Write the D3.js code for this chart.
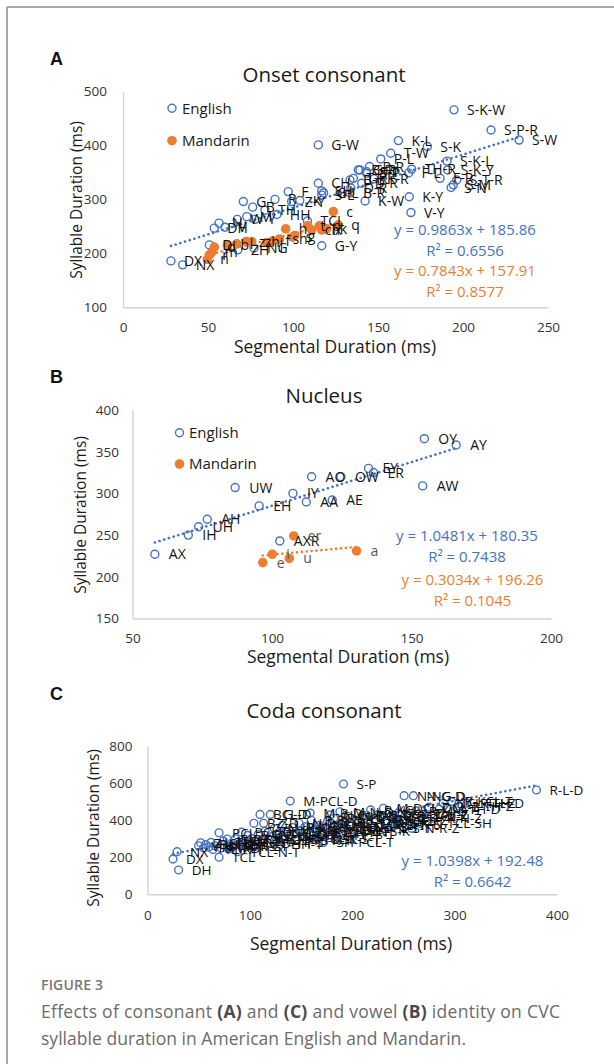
<!DOCTYPE html>
<html><head><meta charset="utf-8">
<script src="https://cdn.jsdelivr.net/npm/d3@7"></script>
<style>
html,body{margin:0;padding:0;background:#fff;}
svg{display:block;}
</style></head><body>
<script>
// ---------- DATA ----------
// [segmental duration (ms), syllable duration (ms), label]
const onsetEnglish = [
  [28.2,186,"DX"],[35.1,178.7,"NX"],[50.8,215.7,"D"],[53.7,246.7,"DH"],[56.5,256,"N"],
  [60,248.5,"V"],[67.2,263,"W"],[70.8,296,"G"],[72.8,268,"M"],[76.3,285.6,"B"],
  [77.6,263,"Y"],[83.5,280,"TH"],[89.4,300,"R"],[90.5,272,"HH"],[97.2,314.5,"F"],
  [99.2,296,"Z-Y"],[104,298,"K"],[108.5,260,"TCL"],[114.9,330,"CH"],[116.9,315.7,"SH"],
  [116.9,308,"S-L"],[118,312,"G-L"],[116.9,214,"G-Y"],[114.9,401,"G-W"],[67.6,206.5,"ZH"],
  [77,210,"NG"],[133.5,312,"B-R"],[134,321,"D-R"],[133.5,336,"B-L"],[135.5,339,"T-R"],
  [138.4,354.6,"B-R"],[139.4,354.6,"G-R"],[140.4,330,"D-R"],[142.4,297,"K-W"],[143.3,348.5,"S-P"],
  [143.3,351.5,"S-T"],[145,361,"P-R"],[147.6,338,"K-R"],[151.6,375,"P-L"],[157.5,385.6,"T-W"],
  [162,409,"K-L"],[168,349,"F-L"],[169.8,356,"TH-R"],[179,398,"S-K"],[190.6,371,"S-K-L"],
  [191,354.6,"S-K-Y"],[186.5,339,"F-R"],[196.3,336,"S-T-R"],[194.3,327,"S-M"],[193,322,"S-N"],
  [168.4,305,"K-Y"],[169.4,275.6,"V-Y"],[194.7,466,"S-K-W"],[216.5,428.7,"S-P-R"],[233,410,"S-W"]
];
const onsetMandarin = [
  [49.6,189,"n"],[50.8,197,"r"],[52.2,202,"m"],[53.7,211.5,"d"],[61.4,215.7,"b"],
  [66.9,217.6,"l"],[72.4,222,"z"],[75.7,222,"zh"],[84.5,220,"j"],[88,223,"f"],
  [92,226.3,"sh"],[95.7,245.4,"h"],[99.8,230,"s"],[101,233,"g"],[108.6,251.5,"t"],
  [111,243.5,"ch"],[115.5,251,"p"],[116.9,243.5,"x"],[119.8,245.4,"k"],[123.7,277.4,"c"],
  [126.6,252.8,"q"]
];
const nucleusEnglish = [
  [58,227,"AX"],[70,250,"IH"],[73.7,260,"UH"],[76.8,269,"AH"],[86.8,307,"UW"],
  [95.4,285,"EH"],[107.5,300,"IY"],[112.3,289.7,"AA"],[114.2,320,"AO"],[121.6,292,"AE"],
  [124.7,320,"OW"],[134.6,330,"EY"],[136.4,325,"ER"],[154.6,365.6,"OY"],[166,358,"AY"],
  [154,309,"AW"],[102.8,243,"AXR"]
];
const nucleusMandarin = [
  [96.7,217,"e"],[100.1,227,"i"],[106.2,222,"u"],[107.8,249,"er"],[130.3,231,"a"]
];
const codaEnglish = [
  [25,190,"DX"],[29,230,"NX"],[30.5,131,"DH"],
  [50,262,"V"],[52,278,"Z"],[55,250,"TH"],[57,268,"DH-Z"],[60,255,"N-TH"],[62,280,"L-TH"],
  [64,242,"F"],[66,262,"S"],[68,275,"SH"],[70,200,"TCL"],[70,332,"PCL"],[72,250,"M-D"],
  [74,288,"N-D"],[75,265,"L-D"],[78,298,"R-D"],[80,245,"N-T"],[82,275,"K-T"],[84,258,"P-T"],
  [86,300,"V-Z"],[88,230,"TCL-N-T"],[90,270,"R-N"],[92,335,"PCL-D"],[94,285,"M-Z"],[96,258,"N-Z"],
  [98,318,"B-D"],[100,280,"L-N"],[102,300,"R-M"],[104,383,"B-Z"],[106,262,"S-T"],[108,322,"G-Z"],
  [110,431,"BCL-D"],[112,295,"K-S"],[113.5,383,"Z-D"],[115,340,"R-L"],[118,275,"DH-T"],[120,431,"G-D"],
  [122,312,"L-M"],[124,355,"N-JH"],[126,290,"CH-T"],[128,330,"NG-Z"],[130,268,"SH-T"],[132,372,"L-V"],
  [134,300,"F-T"],[136,342,"M-P"],[138,318,"N-CH"],[139.5,503,"M-PCL-D"],[140,282,"P-S"],[142,360,"R-V-Z"],
  [144,325,"L-S"],[146,298,"K-TCL-T"],[148,385,"N-DCL-D"],[150,340,"R-K"],[152,310,"M-F"],[154,365,"NG-K"],
  [156,290,"S-K-T"],[158,335,"L-P"],[159,438,"M-B-D"],[160,400,"R-B"],[162,318,"N-S"],[164,350,"M-S"],
  [166,300,"T-S"],[168,372,"L-CH"],[170,330,"R-CH"],[172,280,"SH-PCL-T"],[174,360,"N-TH-S"],[176,395,"R-G"],
  [178,320,"L-F"],[178.5,428,"N-CL-D"],[180,345,"M-TH"],[182,410,"R-DCL-Z"],[184,300,"K-S-T"],[186,370,"L-K"],
  [188,445,"M-N-D"],[190,335,"N-K-T"],[191.5,595,"S-P"],[192,390,"R-S"],[194,355,"L-T-S"],[196,420,"N-DCL-Z"],
  [198,325,"P-S-T"],[200,380,"R-T"],[202,345,"M-P-T"],[205,400,"L-D-Z"],[208,365,"N-T-S"],[210,425,"R-N-D"],
  [212,340,"K-S-K"],[215,385,"L-M-Z"],[218,455,"R-KCL"],[220,360,"N-S-T"],[222,405,"M-N-Z"],[225,430,"L-DCL-Z"],
  [228,375,"R-S-T"],[230.5,464,"M-DCL-Z"],[232,395,"N-G-Z"],[235,355,"L-S-T"],[238,420,"R-DCL-D"],[240,380,"N-K-S"],
  [245,440,"K-L-Z"],[250,400,"R-L-Z"],[250.7,532,"N-NG-D"],[255,420,"L-TCL-Z"],[258,356,"N-R-Z"],[259.8,532,"N-G-D"],
  [262,450,"R-M-D"],[266,383,"N-TCL-SH"],[270,430,"L-V-Z"],[275,470,"DCL-Z"],[280,410,"R-N-Z"],[285,460,"M-TH-D"],
  [289,491,"NCL-TH-Z"],[297,500,"R-KCL-T"],[305,475,"L-TH-Z"],[312,491,"R-TH-D"],[380,562.6,"R-L-D"]
];
// trendline fits: [slope, intercept, R²]
const onsetEnglishFit = [0.9863, 185.86, "0.6556"];
const onsetMandarinFit = [0.7843, 157.91, "0.8577"];
const nucleusEnglishFit = [1.0481, 180.35, "0.7438"];
const nucleusMandarinFit = [0.3034, 196.26, "0.1045"];
const codaEnglishFit = [1.0398, 192.48, "0.6642"];
const onsetXTicks = [0,50,100,150,200,250];
const onsetYTicks = [100,200,300,400,500];
const nucleusXTicks = [50,100,150,200];
const nucleusYTicks = [150,200,250,300,350,400];
const codaXTicks = [0,100,200,300,400];
const codaYTicks = [0,200,400,600,800];
const legendNames = ["English","Mandarin"];

// ---------- DRAWING ----------
const W=614,H=1064;
const FONT="'Open Sans', sans-serif";
const BLUE="#4472c4", ORANGE="#ed7d31";
const svg=d3.select("body").append("svg").attr("width",W).attr("height",H);

svg.append("line").attr("x1",7).attr("x2",W).attr("y1",7).attr("y2",7).attr("stroke","#a8a8a8").attr("stroke-width",2);
svg.append("line").attr("x1",7).attr("x2",7).attr("y1",7).attr("y2",H).attr("stroke","#a8a8a8").attr("stroke-width",2);

function fmtEq(f){
  return "y = " + f[0].toFixed(4) + "x + " + f[1].toFixed(2);
}

function panel(c){
  const x=d3.scaleLinear().domain(c.xDomain).range(c.xRange);
  const y=d3.scaleLinear().domain(c.yDomain).range(c.yRange);
  const g=svg.append("g");
  g.append("text").attr("x",c.letterX).attr("y",c.letterY).text(c.letter)
    .attr("font-family","'Liberation Sans', Arial, sans-serif").attr("font-weight","bold").attr("font-size",18).attr("fill","#111");
  g.append("text").attr("x",c.titleX).attr("y",c.titleY).attr("text-anchor","middle").text(c.title)
    .attr("font-family",FONT).attr("font-size",20.5).attr("fill","#1a1a1a");

  const xa=d3.axisBottom(x).tickValues(c.xTicks).tickSize(0).tickSizeOuter(0).tickPadding(c.xPad);
  const gx=g.append("g").attr("transform",`translate(0,${c.yRange[0]})`).call(xa);
  const ya=d3.axisLeft(y).tickValues(c.yTicks).tickSize(0).tickSizeOuter(0).tickPadding(c.yPad);
  const gy=g.append("g").attr("transform",`translate(${c.xRange[0]},0)`).call(ya);
  [gx,gy].forEach(a=>{
    a.attr("font-family",FONT).attr("font-size",13.5);
    a.select(".domain").attr("stroke","#d4d4d4").attr("stroke-width",1.4);
    a.selectAll("text").attr("fill","#333");
  });
  g.append("text").attr("x",c.xTitleX).attr("y",c.xTitleY).attr("text-anchor","middle").text("Segmental Duration (ms)")
    .attr("font-family",FONT).attr("font-size",17.5).attr("fill","#1a1a1a");
  g.append("text").attr("transform",`translate(${c.yTitleX},${c.yTitleY}) rotate(-90)`).attr("text-anchor","middle")
    .attr("dominant-baseline","central").text("Syllable Duration (ms)")
    .attr("font-family",FONT).attr("font-size",15.5).attr("fill","#1a1a1a");

  // markers
  c.series.forEach(s=>{
    const m=g.append("g");
    s.data.forEach(d=>{
      if(s.filled){
        m.append("circle").attr("cx",x(d[0])).attr("cy",y(d[1])).attr("r",4.8).attr("fill",s.color);
      } else {
        m.append("circle").attr("cx",x(d[0])).attr("cy",y(d[1])).attr("r",c.r).attr("fill","none")
          .attr("stroke",s.color).attr("stroke-width",1.4);
      }
    });
  });
  // trendlines
  c.series.forEach(s=>{
    const xs=s.data.map(d=>d[0]);
    const x0=d3.min(xs), x1=d3.max(xs);
    g.append("line").attr("x1",x(x0)).attr("y1",y(s.fit[0]*x0+s.fit[1]))
      .attr("x2",x(x1)).attr("y2",y(s.fit[0]*x1+s.fit[1]))
      .attr("stroke",s.color).attr("stroke-width",2.6).attr("stroke-linecap","round")
      .attr("stroke-dasharray","0.1,4.8");
  });
  // labels
  c.series.forEach(s=>{
    s.data.forEach(d=>{
      g.append("text").attr("x",x(d[0])+c.labelDx).attr("y",y(d[1])).attr("dy","0.36em").text(d[2])
        .attr("font-family",FONT).attr("font-size",c.labelSize).attr("fill",s.labelColor||"#111");
    });
  });
  // equations
  c.series.forEach(s=>{
    g.append("text").attr("x",s.eqX).attr("y",s.eqY).attr("text-anchor","middle").text(fmtEq(s.fit))
      .attr("font-family",FONT).attr("font-size",15).attr("fill",s.color);
    g.append("text").attr("x",s.eqX).attr("y",s.eqY+21).attr("text-anchor","middle").text("R² = "+s.fit[2])
      .attr("font-family",FONT).attr("font-size",15).attr("fill",s.color);
  });
  // legend
  if(c.legend){
    c.series.forEach((s,i)=>{
      const ly=c.legend.y[i];
      if(s.filled) g.append("circle").attr("cx",c.legend.x).attr("cy",ly).attr("r",4.8).attr("fill",s.color);
      else g.append("circle").attr("cx",c.legend.x).attr("cy",ly).attr("r",c.r).attr("fill","none").attr("stroke",s.color).attr("stroke-width",1.4);
      g.append("text").attr("x",c.legend.tx).attr("y",ly).attr("dy","0.36em").text(legendNames[i])
        .attr("font-family",FONT).attr("font-size",15).attr("fill","#1a1a1a");
    });
  }
}

panel({
  letter:"A", letterX:50, letterY:65, title:"Onset consonant", titleX:324, titleY:82,
  xDomain:[0,250], xRange:[123,548], yDomain:[100,500], yRange:[307.3,91.5],
  xTicks:onsetXTicks, yTicks:onsetYTicks, xPad:15, yPad:16,
  xTitleX:335, xTitleY:353, yTitleX:76, yTitleY:200, r:4, labelDx:13, labelSize:14,
  legend:{x:172, y:[108.3,140.7], tx:182},
  series:[
    {data:onsetEnglish, fit:onsetEnglishFit, color:BLUE, filled:false, eqX:465, eqY:234.5},
    {data:onsetMandarin, fit:onsetMandarinFit, color:ORANGE, filled:true, eqX:465, eqY:275.5}
  ]
});
panel({
  letter:"B", letterX:50, letterY:383, title:"Nucleus", titleX:324, titleY:403,
  xDomain:[50,200], xRange:[132.5,551], yDomain:[150,400], yRange:[618.5,410],
  xTicks:nucleusXTicks, yTicks:nucleusYTicks, xPad:15, yPad:13.5,
  xTitleX:348, xTitleY:663, yTitleX:79.6, yTitleY:515, r:4, labelDx:14, labelSize:14,
  legend:{x:179.5, y:[432.7,464], tx:189},
  series:[
    {data:nucleusEnglish, fit:nucleusEnglishFit, color:BLUE, filled:false, eqX:467, eqY:540.5},
    {data:nucleusMandarin, fit:nucleusMandarinFit, color:ORANGE, filled:true, eqX:472.5, eqY:584.7, labelColor:"#555"}
  ]
});
panel({
  letter:"C", letterX:50, letterY:700, title:"Coda consonant", titleX:324, titleY:718,
  xDomain:[0,400], xRange:[147.4,557], yDomain:[0,800], yRange:[894.3,746],
  xTicks:codaXTicks, yTicks:codaYTicks, xPad:16, yPad:15,
  xTitleX:351, xTitleY:949.5, yTitleX:93.4, yTitleY:828, r:3.9, labelDx:13, labelSize:13.5,
  legend:null,
  series:[
    {data:codaEnglish, fit:codaEnglishFit, color:BLUE, filled:false, eqX:472.5, eqY:865.5}
  ]
});

// caption
function fitWidth(t, target){
  const n=t.node();
  const len=n.getComputedTextLength();
  const chars=n.textContent.length;
  if(chars>1) t.attr("letter-spacing",((target-len)/(chars-1)).toFixed(3));
}
const cap=svg.append("g").attr("font-family",FONT);
const fig=cap.append("text").attr("x",41).attr("y",990).text("FIGURE 3").attr("font-size",14).attr("font-weight",600).attr("fill","#777");
fitWidth(fig,62);
const l1=cap.append("text").attr("x",41).attr("y",1018).attr("font-size",17.5).attr("fill","#6b6b6b");
[["Effects of consonant ",false],["(A)",true],[" and ",false],["(C)",true],[" and vowel ",false],["(B)",true],[" identity on CVC",false]]
  .forEach(p=>{ l1.append("tspan").text(p[0]).attr("font-weight",p[1]?700:400).attr("fill",p[1]?"#4a4a4a":"#6b6b6b"); });
fitWidth(l1,519);
const l2=cap.append("text").attr("x",41).attr("y",1045).attr("font-size",17.5).attr("fill","#6b6b6b")
  .text("syllable duration in American English and Mandarin.");
fitWidth(l2,425);
</script>
</body></html>
